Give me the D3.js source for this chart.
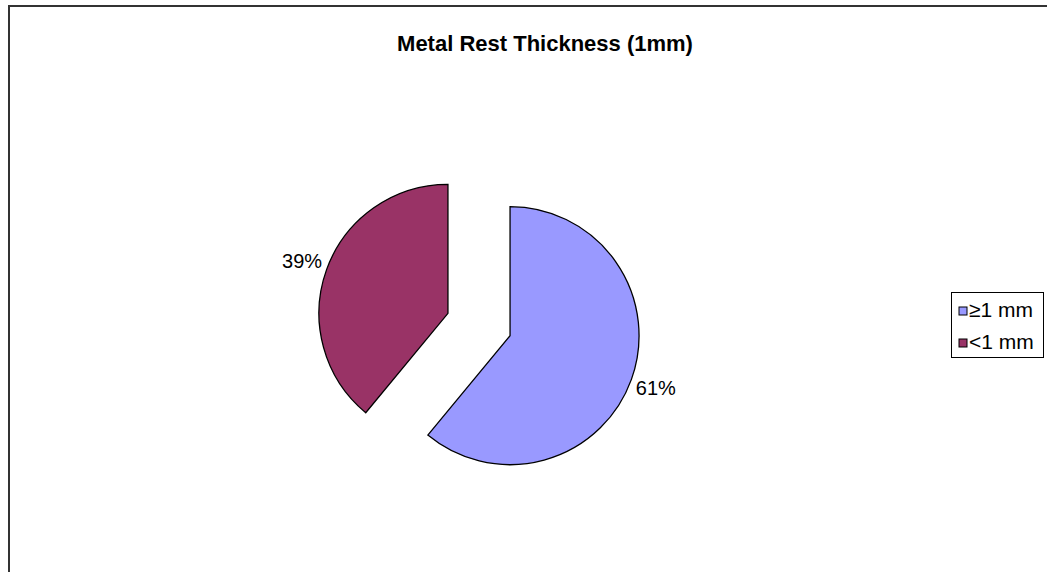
<!DOCTYPE html>
<html>
<head>
<meta charset="utf-8">
<script src="https://cdn.jsdelivr.net/npm/d3@7"></script>
<style>
  html, body { margin: 0; padding: 0; background: #fff; }
  svg { display: block; font-family: "Liberation Sans", Arial, sans-serif; }
</style>
</head>
<body>
<svg id="chart" width="1047" height="572"></svg>
<script>
const title = "Metal Rest Thickness (1mm)";
const categories = ["≥1 mm", "<1 mm"];
const values = [61, 39];
const colors = ["#9999FF", "#993366"];

const svg = d3.select("#chart");
const W = 1047, H = 572;

// outer frame (cropped at right/bottom)
svg.append("path")
  .attr("d", `M9,${H + 5} L9,6 L${W + 5},6`)
  .attr("fill", "none")
  .attr("stroke", "#333")
  .attr("stroke-width", 2);

// title
svg.append("text")
  .attr("x", 545).attr("y", 51)
  .attr("text-anchor", "middle")
  .attr("font-size", 22).attr("font-weight", "bold")
  .attr("fill", "#000")
  .text(title);

// pie
const cx = 479, cy = 324.5, R = 129, explode = 33, labelR = 155;
const pie = d3.pie().sort(null).value(d => d);
const arcs = pie(values);
const arc = d3.arc().innerRadius(0).outerRadius(R);
const total = d3.sum(values);

const g = svg.append("g").attr("transform", `translate(${cx},${cy})`);
arcs.forEach((a, i) => {
  const mid = (a.startAngle + a.endAngle) / 2;
  const ox = explode * Math.sin(mid), oy = -explode * Math.cos(mid);
  const sg = g.append("g").attr("transform", `translate(${ox},${oy})`);
  sg.append("path")
    .attr("d", arc(a))
    .attr("fill", colors[i])
    .attr("stroke", "#000")
    .attr("stroke-width", 1.3)
    .attr("stroke-linejoin", "miter");
  sg.append("text")
    .attr("x", labelR * Math.sin(mid))
    .attr("y", -labelR * Math.cos(mid))
    .attr("dy", "0.35em")
    .attr("text-anchor", "middle")
    .attr("font-size", 20)
    .attr("fill", "#000")
    .text(Math.round(100 * values[i] / total) + "%");
});

// legend
const lg = svg.append("g").attr("transform", "translate(951.5,292.5)");
lg.append("rect")
  .attr("width", 92).attr("height", 65)
  .attr("fill", "#fff").attr("stroke", "#000").attr("stroke-width", 1);
const rowY = d3.scaleOrdinal().domain(categories).range([0, 32]);
categories.forEach((c, i) => {
  const row = lg.append("g").attr("transform", `translate(0,${rowY(c)})`);
  row.append("rect")
    .attr("x", 7.5).attr("y", 14.5)
    .attr("width", 8).attr("height", 8)
    .attr("fill", colors[i]).attr("stroke", "#000").attr("stroke-width", 1);
  row.append("text")
    .attr("x", 17.5).attr("y", 24.5)
    .attr("font-size", 21)
    .attr("fill", "#000")
    .text(c);
});
</script>
</body>
</html>
